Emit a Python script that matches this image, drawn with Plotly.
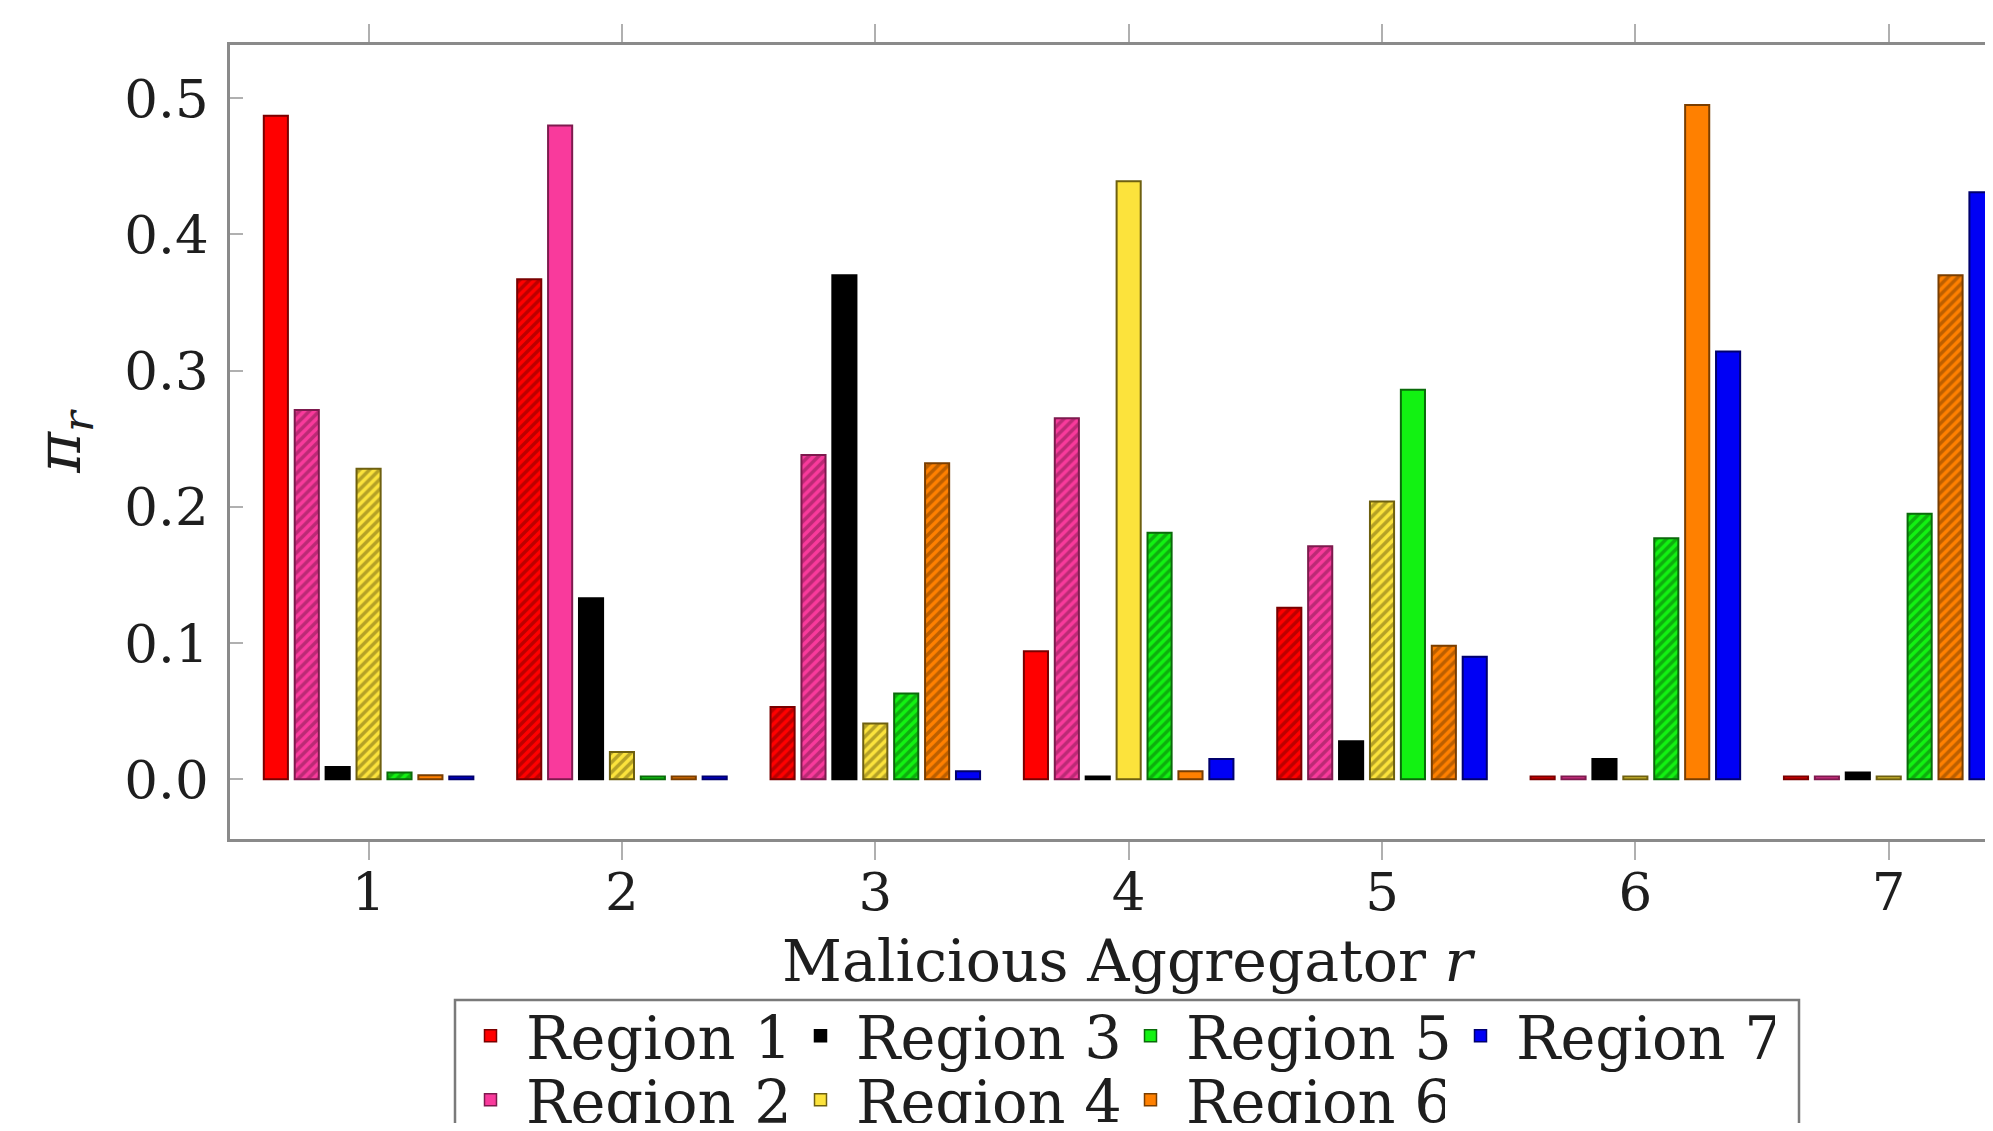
import plotly.graph_objects as go

aggregators = [1, 2, 3, 4, 5, 6, 7]
region_names = ["Region 1", "Region 2", "Region 3", "Region 4", "Region 5", "Region 6", "Region 7"]

region1 = [0.487, 0.367, 0.053, 0.094, 0.126, 0.002, 0.002]
region2 = [0.271, 0.480, 0.238, 0.265, 0.171, 0.002, 0.002]
region3 = [0.009, 0.133, 0.370, 0.002, 0.028, 0.015, 0.005]
region4 = [0.228, 0.020, 0.041, 0.439, 0.204, 0.002, 0.002]
region5 = [0.005, 0.002, 0.063, 0.181, 0.286, 0.177, 0.195]
region6 = [0.003, 0.002, 0.232, 0.006, 0.098, 0.495, 0.370]
region7 = [0.002, 0.002, 0.006, 0.015, 0.090, 0.314, 0.431]

# 1 = hatched bar, 0 = solid bar
hatch1 = [0, 1, 1, 0, 1, 0, 0]
hatch2 = [1, 0, 1, 1, 1, 0, 0]
hatch3 = [0, 0, 0, 0, 0, 0, 0]
hatch4 = [1, 1, 1, 0, 1, 0, 0]
hatch5 = [1, 0, 1, 1, 0, 1, 1]
hatch6 = [0, 0, 1, 0, 1, 0, 1]
hatch7 = [0, 0, 0, 0, 0, 0, 0]

y_ticks = [0.0, 0.1, 0.2, 0.3, 0.4, 0.5]

values = [region1, region2, region3, region4, region5, region6, region7]
hatches = [hatch1, hatch2, hatch3, hatch4, hatch5, hatch6, hatch7]
fill_colors = ["#FF0000", "#F93A9C", "#000000", "#FCE33C", "#12F212", "#FF8000", "#0000F5"]
dark_colors = ["#7A0000", "#7E1A4E", "#000000", "#6E6010", "#0A6A0A", "#7A3E00", "#00006E"]
legend_rows = ["legend", "legend2", "legend", "legend2", "legend", "legend2", "legend"]

FONT = "DejaVu Serif"
TXT = "#1e1e1e"

fig = go.Figure()
for i in range(7):
    shapes = ["/" if h else "" for h in hatches[i]]
    fig.add_trace(go.Bar(
        x=aggregators, y=values[i], name=region_names[i],
        offsetgroup=str(i), showlegend=False,
        marker=dict(color=fill_colors[i],
                    line=dict(color=dark_colors[i], width=2),
                    pattern=dict(shape=shapes, fgcolor=dark_colors[i],
                                 size=7, solidity=0.5)),
    ))
# legend-only entries (solid swatches like the reference legend)
for i in range(7):
    fig.add_trace(go.Bar(
        x=[None], y=[None], name=region_names[i], offsetgroup=str(i),
        legend=legend_rows[i], showlegend=True,
        marker=dict(color=fill_colors[i], line=dict(color=dark_colors[i], width=1.5)),
    ))

# page offset of the figure inside the browser window (body margin)
OFF = 8
W, H = 1993 - 2 * OFF, 1131 - 2 * OFF
plot_left, plot_top, plot_bottom = 230 - OFF, 44.5 - OFF, 839 - OFF
ml, mr, mt, mb = plot_left, 0, plot_top, H - plot_bottom
pw = W - ml - mr
ph = H - mt - mb

def px_x(px):
    return (px - OFF - ml) / pw

def px_y(py):
    return (H - mb - (py - OFF)) / ph

legend_common = dict(
    orientation="h", xanchor="left", yanchor="top",
    entrywidth=254, entrywidthmode="pixels", itemwidth=61,
    font=dict(family=FONT, size=59, color=TXT),
    bgcolor="rgba(0,0,0,0)", borderwidth=0, itemclick=False, itemdoubleclick=False,
)

fig.update_layout(
    width=W, height=H,
    margin=dict(l=ml, r=mr, t=mt, b=mb, autoexpand=False),
    paper_bgcolor="white", plot_bgcolor="white",
    barmode="group", bargap=0.146, bargroupgap=0.22,
    font=dict(family=FONT, color=TXT),
    legend=dict(x=px_x(455), y=px_y(991), **legend_common),
    legend2=dict(x=px_x(455), y=px_y(1055), **legend_common),
    xaxis=dict(
        range=[0.453, 7.38], tickvals=aggregators, ticktext=[str(a) for a in aggregators],
        showline=True, linecolor="#8a8a8a", linewidth=2.5, mirror="ticks",
        ticks="outside", ticklen=18, tickwidth=2, tickcolor="#b0b0b0",
        showgrid=False, zeroline=False, ticklabelstandoff=-13,
        tickfont=dict(family=FONT, size=53, color=TXT),
    ),
    yaxis=dict(
        range=[-0.0438, 0.539], tickvals=y_ticks, ticktext=[f"{v:.1f}" for v in y_ticks],
        showline=True, linecolor="#8a8a8a", linewidth=2.5,
        ticks="inside", ticklen=13, tickwidth=2, tickcolor="#b0b0b0",
        showgrid=False, zeroline=False, ticklabelstandoff=8,
        tickfont=dict(family=FONT, size=53, color=TXT),
        title=dict(text="<i>π</i><sub><i>r</i></sub>", font=dict(family=FONT, size=62, color=TXT),
                   standoff=24),
    ),
    annotations=[dict(text="Malicious Aggregator <i>r</i>", xref="x", yref="paper",
                      x=4, y=px_y(961), xanchor="center", yanchor="middle", showarrow=False,
                      font=dict(family=FONT, size=58.5, color=TXT))],
    shapes=[dict(type="rect", xref="paper", yref="paper",
                 x0=px_x(455), x1=px_x(1799), y0=px_y(1000), y1=px_y(1160),
                 line=dict(color="#7a7a7a", width=2.5), fillcolor="rgba(0,0,0,0)", layer="above")],
)

fig.write_html("out.html")
